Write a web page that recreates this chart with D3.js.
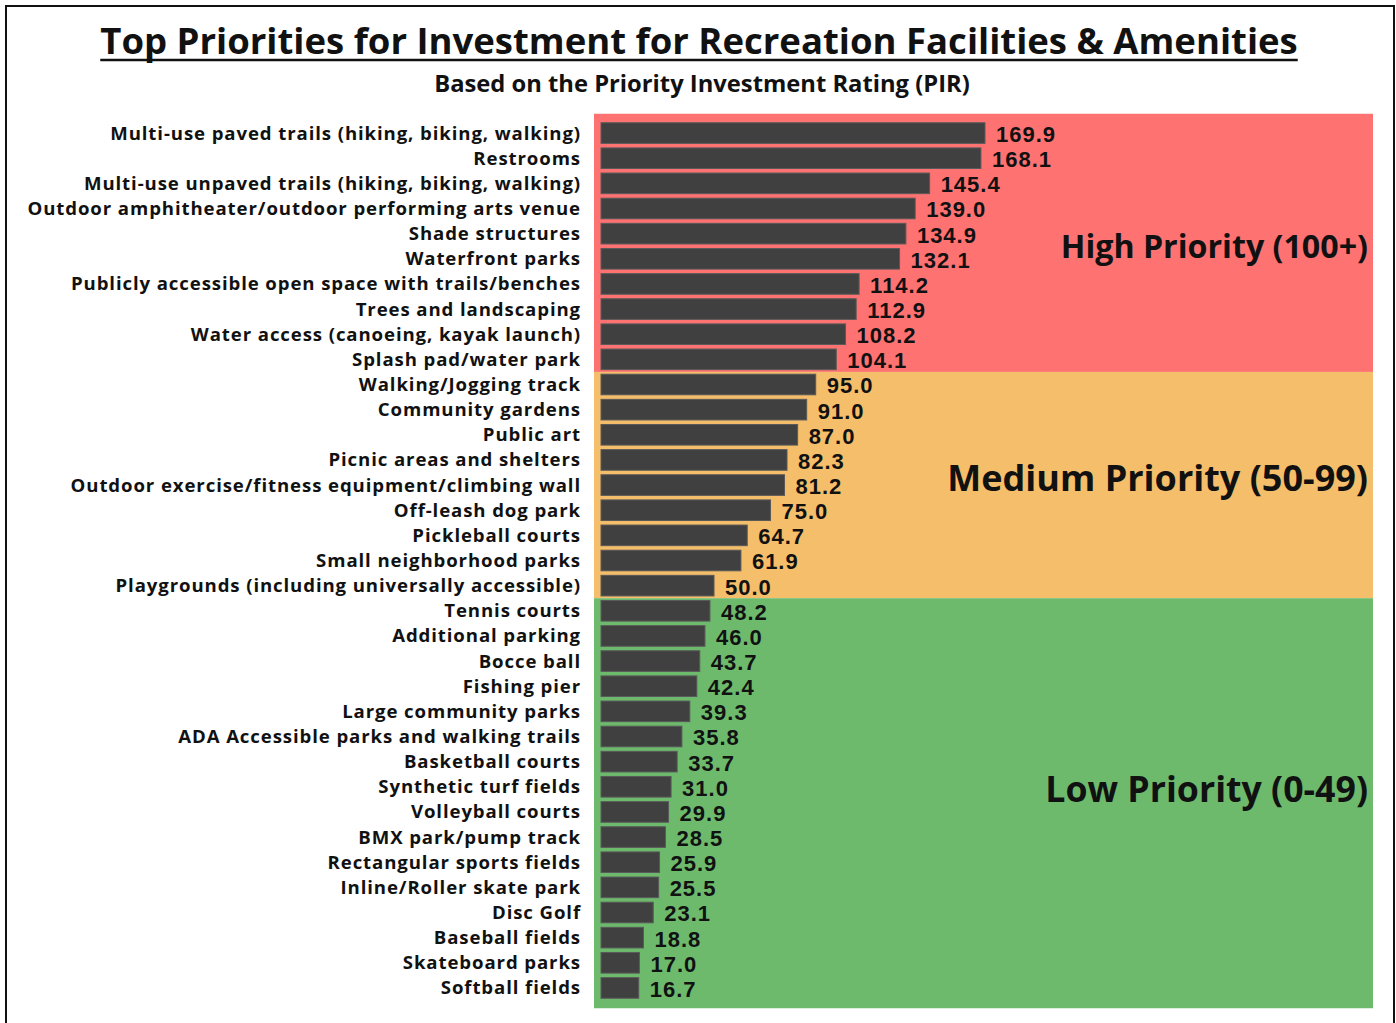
<!DOCTYPE html>
<html>
<head>
<meta charset="utf-8">
<script src="https://cdn.jsdelivr.net/npm/d3@7"></script>
<style>
  body { margin: 0; background: #fff; }
  svg text { font-family: "Open Sans", Lato, sans-serif; font-weight: 700; fill: #111; }
  svg text.value { font-family: "Liberation Sans", Arial, sans-serif; }
</style>
</head>
<body>
<svg id="chart"></svg>
<script>
// ---- data ----
const categories = [
  "Multi-use paved trails (hiking, biking, walking)",
  "Restrooms",
  "Multi-use unpaved trails (hiking, biking, walking)",
  "Outdoor amphitheater/outdoor performing arts venue",
  "Shade structures",
  "Waterfront parks",
  "Publicly accessible open space with trails/benches",
  "Trees and landscaping",
  "Water access (canoeing, kayak launch)",
  "Splash pad/water park",
  "Walking/Jogging track",
  "Community gardens",
  "Public art",
  "Picnic areas and shelters",
  "Outdoor exercise/fitness equipment/climbing wall",
  "Off-leash dog park",
  "Pickleball courts",
  "Small neighborhood parks",
  "Playgrounds (including universally accessible)",
  "Tennis courts",
  "Additional parking",
  "Bocce ball",
  "Fishing pier",
  "Large community parks",
  "ADA Accessible parks and walking trails",
  "Basketball courts",
  "Synthetic turf fields",
  "Volleyball courts",
  "BMX park/pump track",
  "Rectangular sports fields",
  "Inline/Roller skate park",
  "Disc Golf",
  "Baseball fields",
  "Skateboard parks",
  "Softball fields"
];
const pirValues = [169.9, 168.1, 145.4, 139.0, 134.9, 132.1, 114.2, 112.9, 108.2, 104.1,
  95.0, 91.0, 87.0, 82.3, 81.2, 75.0, 64.7, 61.9, 50.0,
  48.2, 46.0, 43.7, 42.4, 39.3, 35.8, 33.7, 31.0, 29.9, 28.5, 25.9, 25.5, 23.1, 18.8, 17.0, 16.7];
const zoneNames = ["High Priority (100+)", "Medium Priority (50-99)", "Low Priority (0-49)"];
const zoneMins = [100, 50, 0];
const zoneColors = ["#ff7272", "#f5be6a", "#6dba6d"];

const title = "Top Priorities for Investment for Recreation Facilities & Amenities";
const subtitle = "Based on the Priority Investment Rating (PIR)";

const data = categories.map((c, i) => ({ name: c, value: pirValues[i] }));

// ---- layout ----
const W = 1396, H = 1023;
const svg = d3.select("#chart").attr("width", W).attr("height", H);

const x = d3.scaleLinear().domain([0, 169.9]).range([601, 985]);
const y = d3.scaleBand()
  .domain(categories)
  .range([120.5, 1000.5])
  .paddingInner(0.18)
  .paddingOuter(0.09);

const panelLeft = 594, panelRight = 1373;

// frame
svg.append("path")
  .attr("d", `M6,${H} L6,6 L1394,6 L1394,${H}`)
  .attr("fill", "none")
  .attr("stroke", "#111")
  .attr("stroke-width", 2);

// priority zones, split halfway between rows
let zones = zoneNames.map((z, k) => {
  const rows = data.filter(d => d.value >= zoneMins[k] && (k === 0 || d.value < zoneMins[k - 1]));
  return { name: z, color: zoneColors[k], first: rows[0].name, last: rows[rows.length - 1].name };
});
zones.forEach((z, k) => {
  z.y0 = k === 0 ? y(z.first) - 9 : y(z.first) - y.step() * y.paddingInner() / 2;
  z.y1 = k === zones.length - 1 ? y(z.last) + y.bandwidth() + 10
                                : y(z.last) + y.bandwidth() + y.step() * y.paddingInner() / 2;
});

svg.append("g").selectAll("rect")
  .data(zones)
  .join("rect")
  .attr("x", panelLeft)
  .attr("y", d => d.y0)
  .attr("width", panelRight - panelLeft)
  .attr("height", d => d.y1 - d.y0)
  .attr("fill", d => d.color);

const zoneLabelY = [247, 478, 790];
const zoneLabelSize = [32.2, 36, 35.7];
svg.append("g").selectAll("text")
  .data(zones)
  .join("text")
  .attr("x", 1368)
  .attr("y", (d, i) => zoneLabelY[i])
  .attr("dy", "0.35em")
  .attr("text-anchor", "end")
  .style("font-size", (d, i) => zoneLabelSize[i] + "px")
  .text(d => d.name);

// bars
svg.append("g").selectAll("rect")
  .data(data)
  .join("rect")
  .attr("x", x(0))
  .attr("y", d => y(d.name))
  .attr("width", d => x(d.value) - x(0))
  .attr("height", y.bandwidth())
  .attr("fill", "#404040")
  .attr("stroke", "#5a5a5a")
  .attr("stroke-width", 1);

// value labels
svg.append("g").selectAll("text")
  .data(data)
  .join("text")
  .attr("class", "value")
  .attr("x", d => x(d.value) + 11)
  .attr("y", d => y(d.name) + y.bandwidth() / 2 + 1)
  .attr("dy", "0.36em")
  .style("font-size", "22px")
  .style("letter-spacing", "1px")
  .text(d => d.value.toFixed(1));

// category axis
const yAxis = svg.append("g")
  .attr("transform", "translate(581,0)")
  .call(d3.axisLeft(y).tickSize(0).tickPadding(0));
yAxis.select(".domain").remove();
yAxis.selectAll("text")
  .attr("dy", "0.35em")
  .style("font-size", "18.6px")
  .style("letter-spacing", "0.9px")
  .style("font-family", null)
  .attr("fill", null);

// titles
const t = svg.append("text")
  .attr("x", 699)
  .attr("y", 54)
  .attr("text-anchor", "middle")
  .style("font-size", "36.5px")
  .text(title);
const tb = t.node().getBBox();
svg.append("line")
  .attr("x1", tb.x).attr("x2", tb.x + tb.width)
  .attr("y1", 60).attr("y2", 60)
  .attr("stroke", "#111").attr("stroke-width", 2.5);

svg.append("text")
  .attr("x", 702)
  .attr("y", 92)
  .attr("text-anchor", "middle")
  .style("font-size", "23.75px")
  .text(subtitle);
</script>
</body>
</html>
